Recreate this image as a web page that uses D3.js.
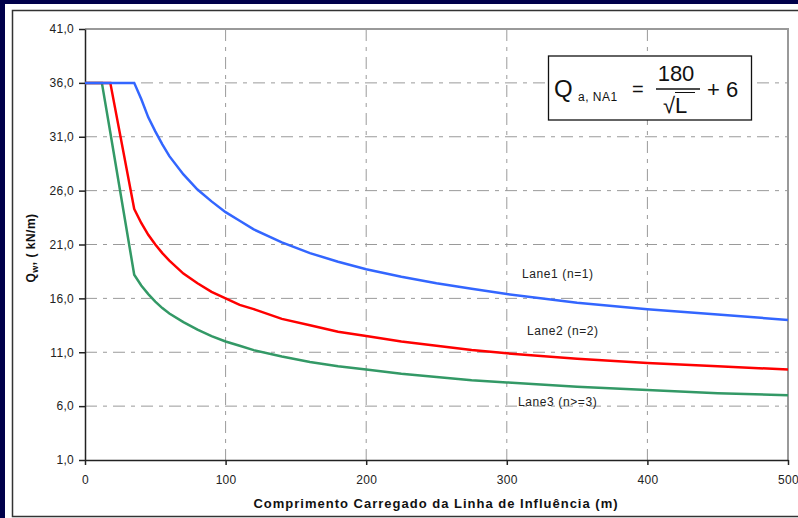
<!DOCTYPE HTML>
<html>
<head>
<meta charset="utf-8">
<title>Chart</title>
<script src="https://d3js.org/d3.v7.min.js"></script>
<style>
body { margin: 0; background: #00004a; }
svg { display: block; font-family: "Liberation Sans", Arial, sans-serif; }
.grid line { stroke: #9a9a9a; stroke-width: 1; stroke-dasharray: 12,6,4,6; }
.axis path, .axis line { stroke: #222; stroke-width: 1.5; }
.axis text { fill: #222; font-size: 12px; letter-spacing: 0.3px; }
.series { fill: none; stroke-width: 2.5; }
.lbl { font-size: 12px; fill: #222; letter-spacing: 0.6px; }
</style>
</head>
<body>
<svg width="798" height="518"></svg>
<script>
// comprimento L (m)
var L = [0, 12, 18, 35, 40, 45, 50, 55, 60, 70, 80, 90, 100, 110, 120, 140, 160, 180, 200, 225, 250, 275, 300, 350, 400, 450, 500];
var lane1 = [36, 36, 36, 36, 34.5, 32.8, 31.5, 30.3, 29.2, 27.5, 26.1, 25.0, 24.0, 23.2, 22.4, 21.2, 20.2, 19.4, 18.7, 18.0, 17.4, 16.9, 16.4, 15.6, 15.0, 14.5, 14.0];
var lane2 = [36, 36, 36, 24.3, 23.0, 21.9, 21.0, 20.2, 19.5, 18.3, 17.4, 16.6, 16.0, 15.4, 15.0, 14.1, 13.5, 12.9, 12.5, 12.0, 11.6, 11.2, 10.9, 10.4, 10.0, 9.7, 9.4];
var lane3 = [36, 36, 31.4, 18.2, 17.2, 16.4, 15.7, 15.1, 14.6, 13.8, 13.1, 12.5, 12.0, 11.6, 11.2, 10.6, 10.1, 9.7, 9.4, 9.0, 8.7, 8.4, 8.2, 7.8, 7.5, 7.2, 7.0];
var yTicks = [1, 6, 11, 16, 21, 26, 31, 36, 41];
var xTicks = [0, 100, 200, 300, 400, 500];
var labels = ["Lane1 (n=1)", "Lane2 (n=2)", "Lane3 (n>=3)"];

var svg = d3.select("svg");

// moldura
svg.append("rect").attr("x", 5).attr("y", 4).attr("width", 800).attr("height", 520).attr("fill", "#fff");
svg.append("rect").attr("x", 12.5).attr("y", 10.5).attr("width", 800).attr("height", 506)
	.attr("fill", "none").attr("stroke", "#333").attr("stroke-width", 1.5);

var x = d3.scaleLinear().domain([0, 500]).range([85, 788]),
	y = d3.scaleLinear().domain([1, 41]).range([460, 29]);

// grade
var grid = svg.append("g").attr("class", "grid");
grid.selectAll(".h").data(yTicks.slice(1, -1)).enter().append("line")
	.attr("x1", x(0)).attr("x2", x(500))
	.attr("y1", function(d) { return y(d); }).attr("y2", function(d) { return y(d); });
grid.selectAll(".v").data(xTicks.slice(1, -1)).enter().append("line")
	.attr("y1", y(41)).attr("y2", y(1))
	.attr("x1", function(d) { return x(d); }).attr("x2", function(d) { return x(d); });

// borda superior e direita
svg.append("path")
	.attr("d", "M" + x(0) + "," + y(41) + "H" + x(500) + "V" + y(1))
	.attr("fill", "none").attr("stroke", "#999").attr("stroke-width", 2);

svg.append("g")
	.attr("class", "axis")
	.attr("transform", "translate(0," + y(1) + ")")
	.call(d3.axisBottom(x).tickValues(xTicks).tickSize(5).tickSizeOuter(0).tickPadding(10));

svg.append("g")
	.attr("class", "axis")
	.attr("transform", "translate(" + x(0) + ",0)")
	.call(d3.axisLeft(y).tickValues(yTicks).tickSize(6).tickSizeOuter(0).tickPadding(5)
		.tickFormat(function(d) { return d3.format(".1f")(d).replace(".", ","); }));

var line = d3.line()
	.x(function(d, i) { return x(L[i]); })
	.y(function(d) { return y(d); });

var series = [lane3, lane2, lane1],
	colors = ["#339966", "#ff0000", "#3366ff"];
svg.selectAll(".series").data(series).enter().append("path")
	.attr("class", "series")
	.attr("stroke", function(d, i) { return colors[i]; })
	.attr("d", line);

// rótulos
var lblPos = [[522, 278], [527, 335], [518, 406]];
svg.selectAll(".lbl").data(labels).enter().append("text")
	.attr("class", "lbl")
	.attr("x", function(d, i) { return lblPos[i][0]; })
	.attr("y", function(d, i) { return lblPos[i][1]; })
	.text(function(d) { return d; });

// fórmula
var f = svg.append("g");
f.append("rect").attr("x", 548.5).attr("y", 56).attr("width", 203).attr("height", 64)
	.attr("fill", "#fff").attr("stroke", "#111").attr("stroke-width", 1.3);
f.append("text").attr("x", 554).attr("y", 97).style("font-size", "24px").attr("fill", "#111").text("Q");
f.append("text").attr("x", 578).attr("y", 101).style("font-size", "12px").style("letter-spacing", "0.5px").attr("fill", "#111").text("a, NA1");
f.append("text").attr("x", 632).attr("y", 96).style("font-size", "20px").attr("fill", "#111").text("=");
f.append("text").attr("x", 676).attr("y", 81).attr("text-anchor", "middle").style("font-size", "22px").attr("fill", "#111").text("180");
f.append("line").attr("x1", 656).attr("x2", 700).attr("y1", 89).attr("y2", 89).attr("stroke", "#111").attr("stroke-width", 1.3);
f.append("text").attr("x", 663).attr("y", 113).style("font-size", "22px").attr("fill", "#111").text("√L");
f.append("line").attr("x1", 675).attr("x2", 695).attr("y1", 92.5).attr("y2", 92.5).attr("stroke", "#111").attr("stroke-width", 1);
f.append("text").attr("x", 707).attr("y", 97).style("font-size", "22px").attr("fill", "#111").text("+ 6");

// títulos
var yl = svg.append("text")
	.attr("transform", "translate(35,248) rotate(-90)")
	.attr("text-anchor", "middle")
	.style("font-size", "12px").style("font-weight", "bold").style("letter-spacing", "0.5px").attr("fill", "#111");
yl.append("tspan").text("Q");
yl.append("tspan").attr("dy", 3).style("font-size", "9px").text("w");
yl.append("tspan").attr("dy", -3).text(",  ( kN/m)");

svg.append("text")
	.attr("x", 436).attr("y", 508)
	.attr("text-anchor", "middle")
	.style("font-size", "13px").style("font-weight", "bold").style("letter-spacing", "1px").attr("fill", "#111")
	.text("Comprimento Carregado da Linha de Influência (m)");
</script>
</body>
</html>
